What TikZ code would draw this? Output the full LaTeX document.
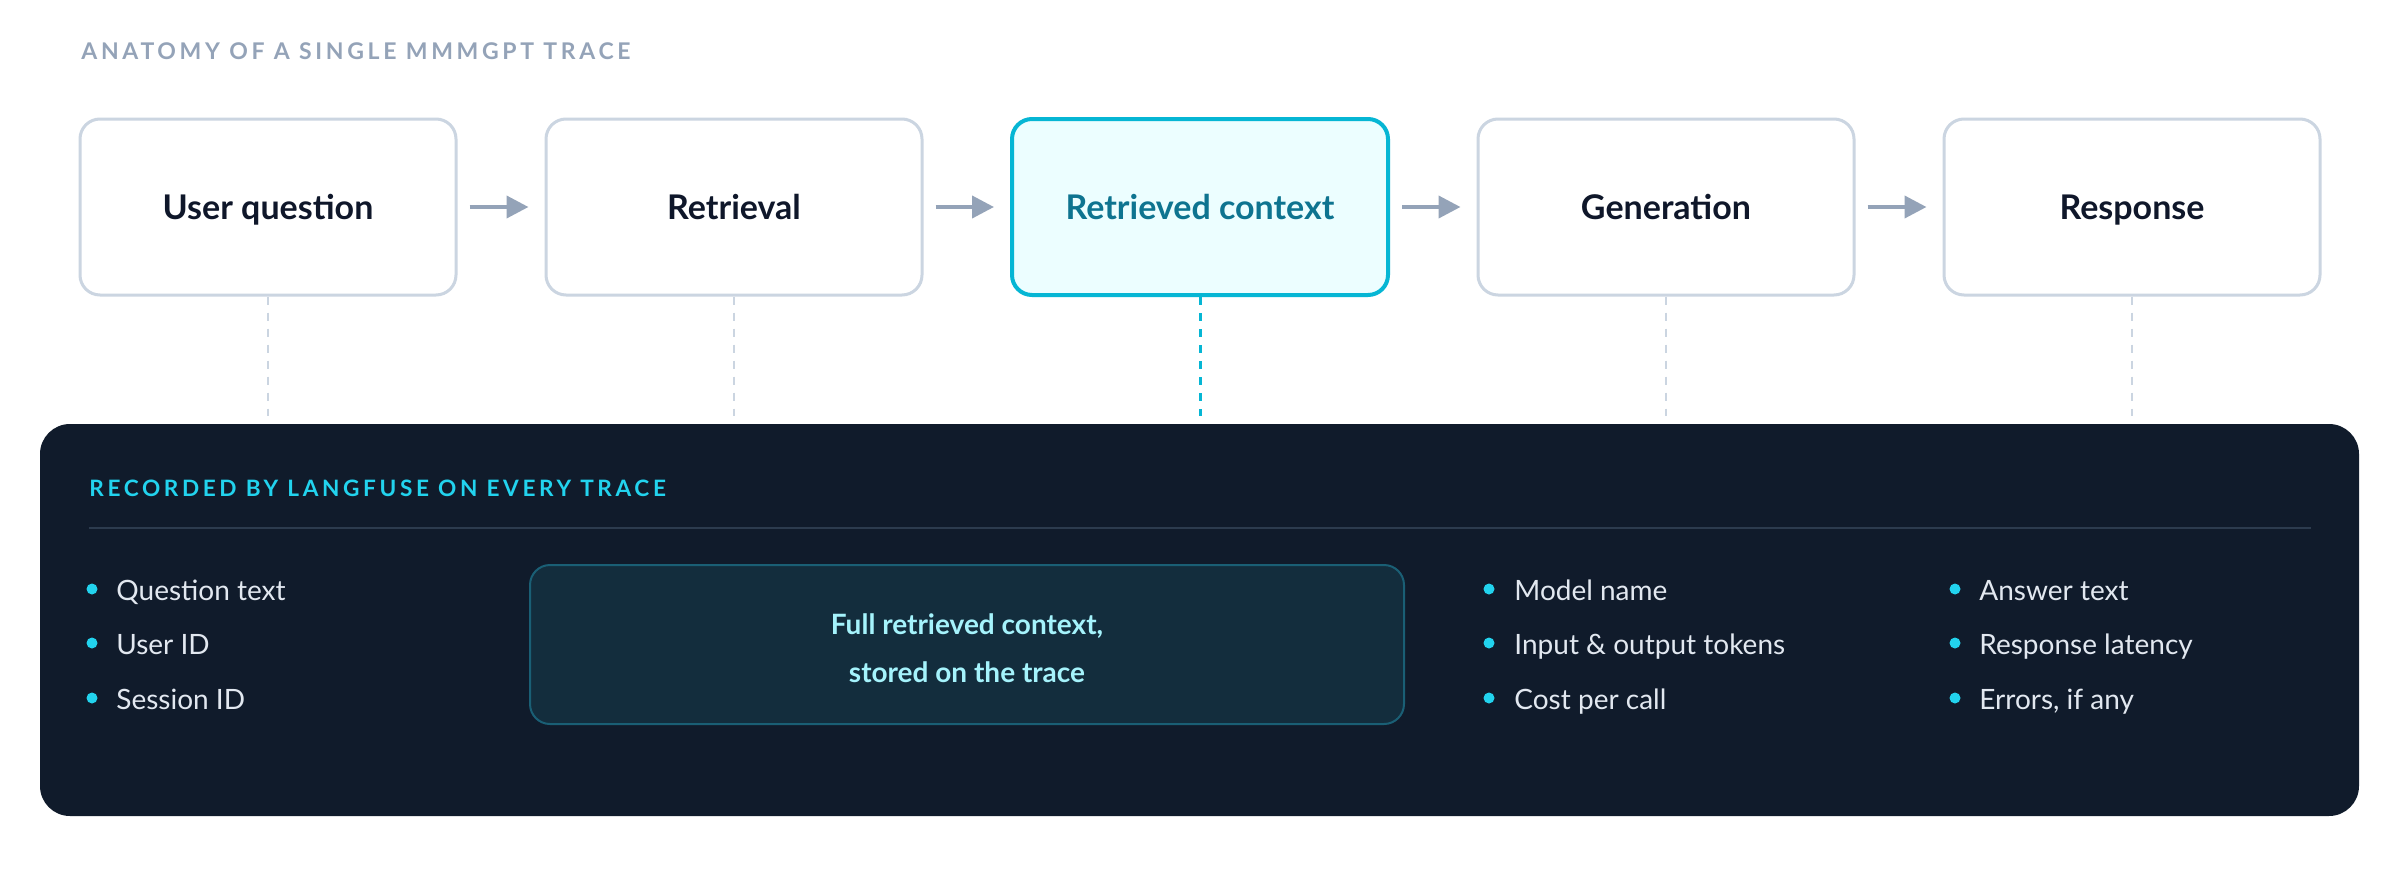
\documentclass[tikz,border=0pt]{standalone}
\usepackage{fontspec}
\setmainfont{Lato}
\newfontfamily\trackfont[LetterSpace=16]{Lato}
\usetikzlibrary{arrows.meta}
\definecolor{slatefour}{HTML}{94A3B8}
\definecolor{boxborder}{HTML}{CBD5E1}
\definecolor{darktext}{HTML}{0F172A}
\definecolor{cyanborder}{HTML}{06B6D4}
\definecolor{cyanfill}{HTML}{ECFEFF}
\definecolor{cyantext}{HTML}{0E7490}
\definecolor{panelbg}{HTML}{101B2B}
\definecolor{paneltitle}{HTML}{22D3EE}
\definecolor{rulecol}{HTML}{2C3B4E}
\definecolor{itemtext}{HTML}{E2E8F0}
\definecolor{ctxfill}{HTML}{132D3D}
\definecolor{ctxborder}{HTML}{1A5F75}
\definecolor{ctxtext}{HTML}{A5F3FC}
\begin{document}
\begin{tikzpicture}[x=0.5pt,y=-0.5pt,
  stage/.style={draw=boxborder, line width=1.5pt, fill=white, rounded corners=10pt,
    minimum width=188pt, minimum height=88pt, font=\bfseries\fontsize{17}{20}\selectfont,
    text=darktext, inner sep=0pt, text height=12.2pt, text depth=0pt},
  stagehl/.style={stage, draw=cyanborder, line width=2pt, fill=cyanfill, text=cyantext},
  flow/.style={draw=slatefour, line width=2pt, -{Triangle[length=11pt,width=11pt]},
    shorten <=6pt, shorten >=8pt},
  link/.style={draw=boxborder, line width=1.3pt, dash pattern=on 4pt off 4pt},
  linkhl/.style={draw=cyanborder, line width=1.5pt, dash pattern=on 4pt off 4pt},
  panel/.style={fill=panelbg, rounded corners=15pt, minimum width=1159.5pt,
    minimum height=196pt, inner sep=0pt},
  ctxbox/.style={draw=ctxborder, line width=1pt, fill=ctxfill, rounded corners=10pt,
    minimum width=437pt, minimum height=79.5pt, inner sep=0pt, align=center,
    text=ctxtext, font=\bfseries\fontsize{14}{24}\selectfont,
    text height=37.5pt, text depth=0pt},
  dot/.style={circle, fill=paneltitle, inner sep=0pt, minimum size=5.5pt},
  item/.style={anchor=base west, inner sep=0pt, text=itemtext,
    font=\fontsize{14}{17}\selectfont, yshift=-5pt},
  heading/.style={anchor=west, inner sep=0pt, font=\trackfont\bfseries\fontsize{11.5}{14}\selectfont}
]
\useasboundingbox (0,0) rectangle (2400,884);
\fill[white] (0,0) rectangle (2400,884);

\node[heading, text=slatefour] (title) at (81,51) {ANATOMY OF A SINGLE MMMGPT TRACE};

\node[stage] (q) at (268,207) {User question};
\node[stage] (r) at (734,207) {Retrieval};
\node[stagehl] (c) at (1200,207) {Retrieved context};
\node[stage] (g) at (1666,207) {Generation};
\node[stage] (s) at (2132,207) {Response};

\draw[flow] (q) -- (r);
\draw[flow] (r) -- (c);
\draw[flow] (c) -- (g);
\draw[flow] (g) -- (s);

\node[panel] (panel) at (1199.5,620) {};

\draw[link, shorten >=4pt] (q.south) -- (q.south |- panel.north);
\draw[link, shorten >=4pt] (r.south) -- (r.south |- panel.north);
\draw[linkhl, shorten >=4pt] (c.south) -- (c.south |- panel.north);
\draw[link, shorten >=4pt] (g.south) -- (g.south |- panel.north);
\draw[link, shorten >=4pt] (s.south) -- (s.south |- panel.north);

\node[heading, text=paneltitle, font=\trackfont\bfseries\fontsize{11.3}{14}\selectfont] (ptitle) at (89,488) {RECORDED BY LANGFUSE ON EVERY TRACE};
\coordinate (rulea) at (89,528);
\coordinate (ruleb) at (2311,528);
\draw[rulecol, line width=1pt] (rulea) -- (ruleb);

\node[ctxbox] (ctx) at (967,644.5) {Full retrieved context,\\stored on the trace};

\node[dot] (d11) at (92,589) {};
\node[item] (t11) at (116,590) {Question text};
\node[dot] (d12) at (92,643) {};
\node[item] (t12) at (116,644) {User ID};
\node[dot] (d13) at (92,698) {};
\node[item] (t13) at (116,699) {Session ID};

\node[dot] (d31) at (1489,589) {};
\node[item] (t31) at (1514,590) {Model name};
\node[dot] (d32) at (1489,643) {};
\node[item] (t32) at (1514,644) {Input \& output tokens};
\node[dot] (d33) at (1489,698) {};
\node[item] (t33) at (1514,699) {Cost per call};

\node[dot] (d41) at (1955,589) {};
\node[item] (t41) at (1979,590) {Answer text};
\node[dot] (d42) at (1955,643) {};
\node[item] (t42) at (1979,644) {Response latency};
\node[dot] (d43) at (1955,698) {};
\node[item] (t43) at (1979,699) {Errors, if any};
\end{tikzpicture}
\end{document}
